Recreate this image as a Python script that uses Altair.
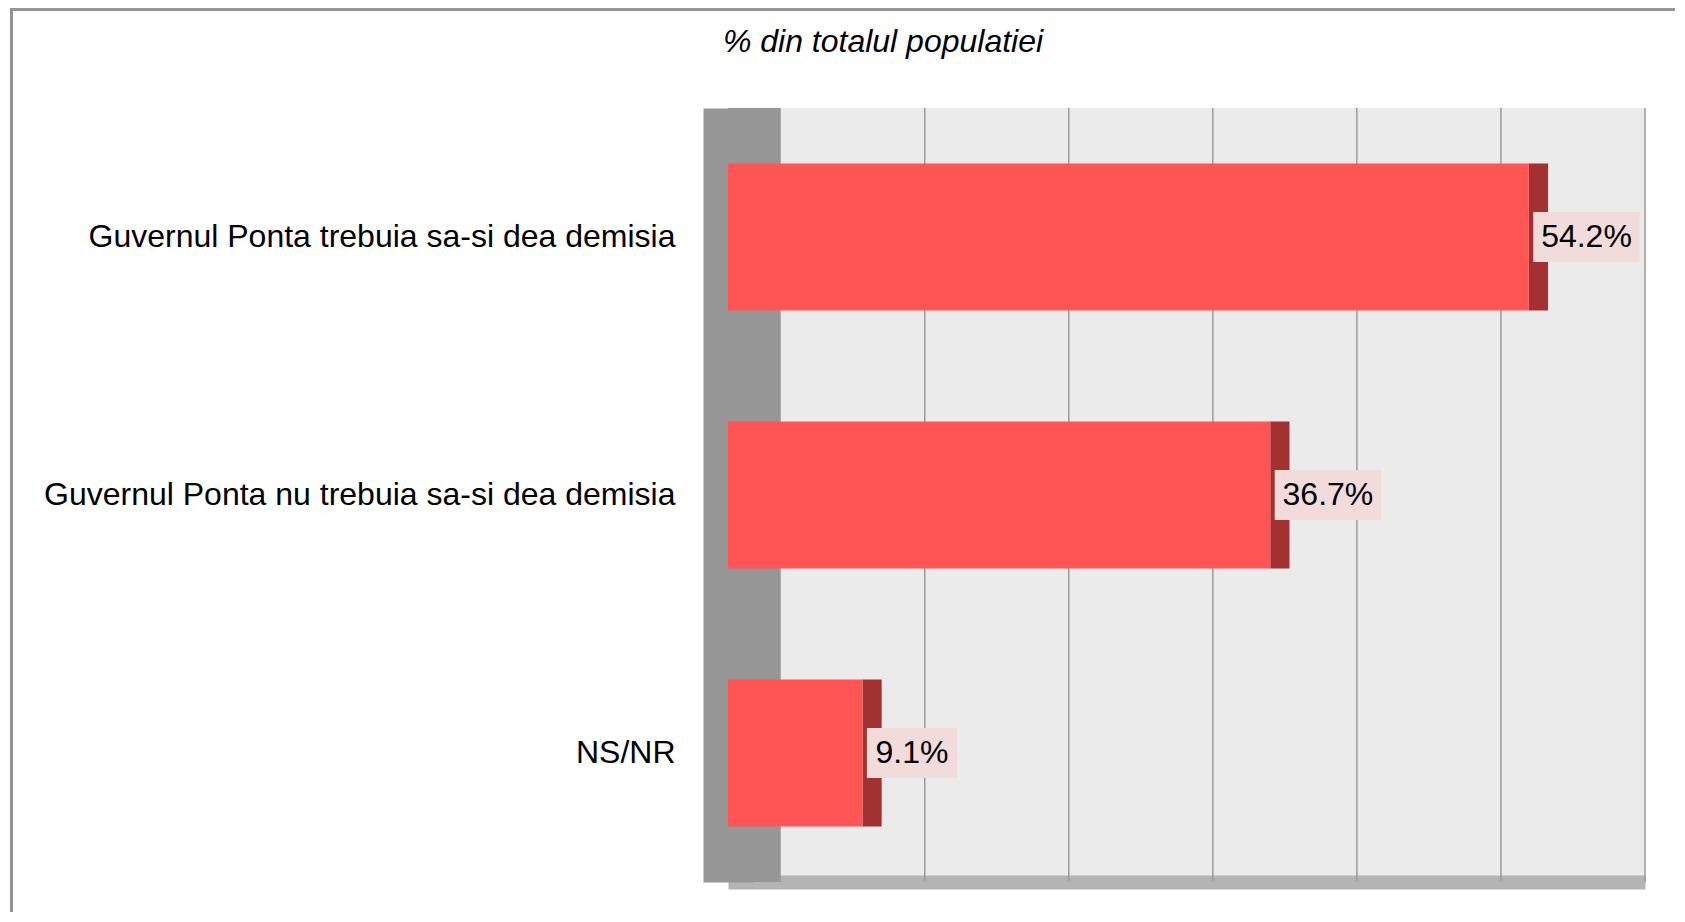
import altair as alt
import pandas as pd

title_text = "% din totalul populatiei"
categories = [
    "Guvernul Ponta trebuia sa-si dea demisia",
    "Guvernul Ponta nu trebuia sa-si dea demisia",
    "NS/NR",
]
values = [54.2, 36.7, 9.1]
labels = ["54.2%", "36.7%", "9.1%"]
grid_values = [10, 20, 30, 40, 50, 60]
wall_origin = [0]

df = pd.DataFrame({"cat": categories, "value": values, "label": labels})
grid_df = pd.DataFrame({"g": grid_values})
wall_df = pd.DataFrame({"w": wall_origin})

FONT = "Liberation Sans"

y_enc = alt.Y(
    "cat:N",
    sort=None,
    title=None,
    scale=alt.Scale(paddingInner=0.43, paddingOuter=0.215),
    axis=alt.Axis(
        ticks=False,
        labelFont=FONT,
        labelFontSize=32,
        labelColor="#000000",
        labelPadding=53,
        labelLimit=900,
        domainColor="#969696",
        domainWidth=50,
        grid=False,
    ),
)

# front (bar) scale and back-wall (grid) scale
x_scale = alt.Scale(domain=[0, 62.06], nice=False, zero=False)
grid_scale = alt.Scale(domain=[-3.66, 60], nice=False, zero=False)

x_axis = alt.Axis(
    labels=False,
    ticks=False,
    grid=False,
    domainColor="#b4b4b4",
    domainWidth=14,
)

base = alt.Chart(df)

# outer chart frame and chart title (decoration / text only)
frame = alt.Chart(wall_df).mark_rect(
    fill="transparent", stroke="#939393", strokeWidth=3
).encode(
    x=alt.value(-716.5),
    x2=alt.value(1000),
    y=alt.value(-98.5),
    y2=alt.value(900),
)

title = alt.Chart(wall_df).mark_text(
    font=FONT,
    fontSize=32,
    fontStyle="italic",
    color="#000000",
    align="center",
    baseline="middle",
).encode(
    x=alt.value(155),
    y=alt.value(-66),
    text=alt.value(title_text),
)

wall = alt.Chart(wall_df).mark_rect(color="#969696").encode(
    x=alt.X("w:Q", scale=grid_scale, axis=None),
    x2=alt.value(0),
)

grid = alt.Chart(grid_df).mark_rule(color="#9a9a9a", strokeWidth=1.5).encode(
    x=alt.X("g:Q", scale=grid_scale, axis=None)
)

side = base.transform_calculate(side_end="datum.value + 1.3").mark_bar(
    color="#a33131"
).encode(x=alt.X("value:Q", scale=x_scale, axis=None), x2="side_end:Q", y=y_enc)

front = base.mark_bar(color="#ff5555").encode(
    x=alt.X("value:Q", scale=x_scale, title=None, axis=x_axis), y=y_enc
)

box = base.transform_calculate(
    bx="datum.value + 0.3",
    bx2="datum.value + 0.3 + 1.1 * length(datum.label) + 1.7",
).mark_bar(color="#f2dcdb", size=50).encode(
    x=alt.X("bx:Q", scale=x_scale, axis=None),
    x2="bx2:Q",
    y=y_enc,
)

text = base.transform_calculate(
    tx="datum.value + 0.3 + (1.1 * length(datum.label) + 1.7) / 2"
).mark_text(
    font=FONT, fontSize=32, color="#000000", align="center", baseline="middle"
).encode(
    x=alt.X("tx:Q", scale=x_scale, axis=None),
    y=y_enc,
    text="label:N",
)

chart = (
    alt.layer(wall, grid, side, front, box, text, title, frame)
    .resolve_scale(x="independent")
    .properties(
        width=917,
        height=774,
        autosize=alt.AutoSizeParams(type="none"),
        padding={"left": 720, "top": 100, "right": 30, "bottom": 30},
    )
    .configure(background="#ffffff")
    .configure_view(fill="#ebebeb", strokeWidth=0)
)

chart.save("out.html", embed_options={"renderer": "svg", "actions": False})
